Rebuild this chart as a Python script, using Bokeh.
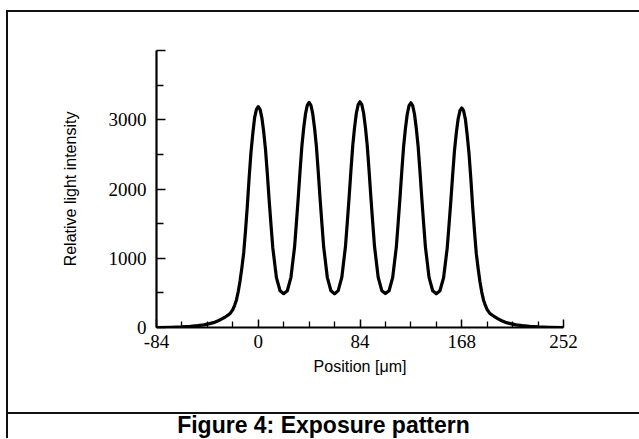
from bokeh.plotting import figure
from bokeh.models import FixedTicker, Range1d, Div
from bokeh.layouts import column
from bokeh.embed import file_html
from bokeh.resources import INLINE

# ---- data ----
position_um = [
    -84, -72, -63, -56, -50, -45, -41, -37, -33, -30,
    -27, -25, -23, -21, -19.5, -18, -16.5, -15, -13.5, -12,
    -10.5, -9, -7.5, -6, -4.5, -3, -1.5, 0, 1.5, 3,
    4.5, 6, 7.5, 9, 10.5, 12, 15, 18, 21, 24,
    27, 30, 31.5, 33, 34.5, 36, 37.5, 39, 40.5, 42,
    43.5, 45, 46.5, 48, 49.5, 51, 52.5, 54, 57, 60,
    63, 66, 69, 72, 73.5, 75, 76.5, 78, 79.5, 81,
    82.5, 84, 85.5, 87, 88.5, 90, 91.5, 93, 94.5, 96,
    99, 102, 105, 108, 111, 114, 115.5, 117, 118.5, 120,
    121.5, 123, 124.5, 126, 127.5, 129, 130.5, 132, 133.5, 135,
    136.5, 138, 141, 144, 147, 150, 153, 156, 157.5, 159,
    160.5, 162, 163.5, 165, 166.5, 168, 169.5, 171, 172.5, 174,
    175.5, 177, 178.5, 180, 181.5, 183, 184.5, 186, 187.5, 189,
    191, 193, 195, 198, 201, 205, 209, 213, 218, 224,
    231, 240, 252,
]
intensity = [
    0, 3, 8, 16, 26, 38, 52, 70, 98, 125,
    155, 178, 207, 258, 320, 398, 520, 675, 865, 1080,
    1400, 1760, 2170, 2530, 2800, 3030, 3150, 3190, 3150, 3028,
    2826, 2569, 2218, 1840, 1489, 1152, 720, 531, 488, 531,
    725, 1166, 1511, 1870, 2256, 2615, 2877, 3084, 3209, 3250,
    3209, 3084, 2877, 2615, 2256, 1870, 1511, 1166, 725, 531,
    486, 532, 725, 1169, 1515, 1875, 2263, 2623, 2886, 3094,
    3218, 3260, 3218, 3094, 2886, 2623, 2263, 1875, 1515, 1169,
    725, 532, 490, 531, 724, 1165, 1509, 1868, 2253, 2611,
    2873, 3080, 3204, 3245, 3204, 3080, 2873, 2611, 2253, 1868,
    1509, 1165, 724, 531, 487, 530, 718, 1147, 1482, 1830,
    2205, 2554, 2808, 3009, 3130, 3170, 3130, 3010, 2780, 2510,
    2150, 1745, 1390, 1070, 855, 665, 512, 395, 318, 258,
    207, 180, 157, 125, 98, 70, 52, 38, 26, 16,
    8, 3, 0,
]

x_major_ticks = [-84, 0, 84, 168, 252]
x_minor_ticks = [-63, -42, -21, 21, 42, 63, 105, 126, 147, 189, 210, 231]
y_major_ticks = [0, 1000, 2000, 3000, 4000]
y_minor_ticks = [500, 1500, 2500, 3500]

x_label = "Position [\u03bcm]"
y_label = "Relative light intensity"
caption = "Figure 4: Exposure pattern"

# ---- chart figure ----
W, H = 631, 400
p = figure(
    width=W, height=H, output_backend="svg", toolbar_location=None,
    x_range=Range1d(-84, 252), y_range=Range1d(0, 4000),
    min_border_left=148, min_border_right=76,
    min_border_top=38, min_border_bottom=85, margin=0,
)
p.xgrid.visible = False
p.ygrid.visible = False
p.outline_line_color = None
p.background_fill_color = "white"
p.border_fill_color = "white"

p.line(position_um, intensity, line_width=3.2, line_color="black",
       line_join="round", line_cap="round")

serif = "Liberation Serif"
sans = "Liberation Sans"

xa = p.xaxis[0]
xa.ticker = FixedTicker(ticks=x_major_ticks, minor_ticks=x_minor_ticks)
xa.major_label_overrides = {-84: "-84"}
ya = p.yaxis[0]
ya.ticker = FixedTicker(ticks=y_major_ticks, minor_ticks=y_minor_ticks)
ya.major_label_overrides = {4000: ""}

for ax in (xa, ya):
    ax.axis_line_color = "black"
    ax.axis_line_width = 2.2
    ax.major_tick_line_color = "black"
    ax.minor_tick_line_color = "black"
    ax.major_tick_line_width = 1.5
    ax.minor_tick_line_width = 1.3
    ax.major_tick_out = 0
    ax.minor_tick_out = 0
    ax.major_label_text_font = serif
    ax.major_label_text_font_size = "19px"
    ax.major_label_text_color = "black"
    ax.axis_label_text_font = sans
    ax.axis_label_text_font_size = "16px"
    ax.axis_label_text_font_style = "normal"
    ax.axis_label_text_color = "black"

xa.major_tick_in = 8
xa.minor_tick_in = 6
xa.major_label_standoff = 7
xa.axis_label = x_label
xa.axis_label_standoff = 7

ya.major_tick_in = 9
ya.minor_tick_in = 7
ya.major_label_standoff = 10
ya.axis_label = y_label
ya.axis_label_standoff = 27

# ---- caption and outer frame ----
cap = Div(
    text=caption, width=W, height=26, margin=0,
    styles={
        "border-top": "2px solid #111111",
        "box-sizing": "border-box",
        "font-family": "Liberation Sans, Arial, sans-serif",
        "font-weight": "bold",
        "font-size": "23px",
        "line-height": "22px",
        "text-align": "center",
        "color": "black",
    },
)

layout = column(
    p, cap, spacing=0, margin=(10, 0, 0, 6),
    styles={"border-top": "2px solid #111111", "border-left": "2px solid #111111",
            "border-right": "none", "border-bottom": "none"},
)

open("out.html", "w").write(file_html(layout, INLINE))
